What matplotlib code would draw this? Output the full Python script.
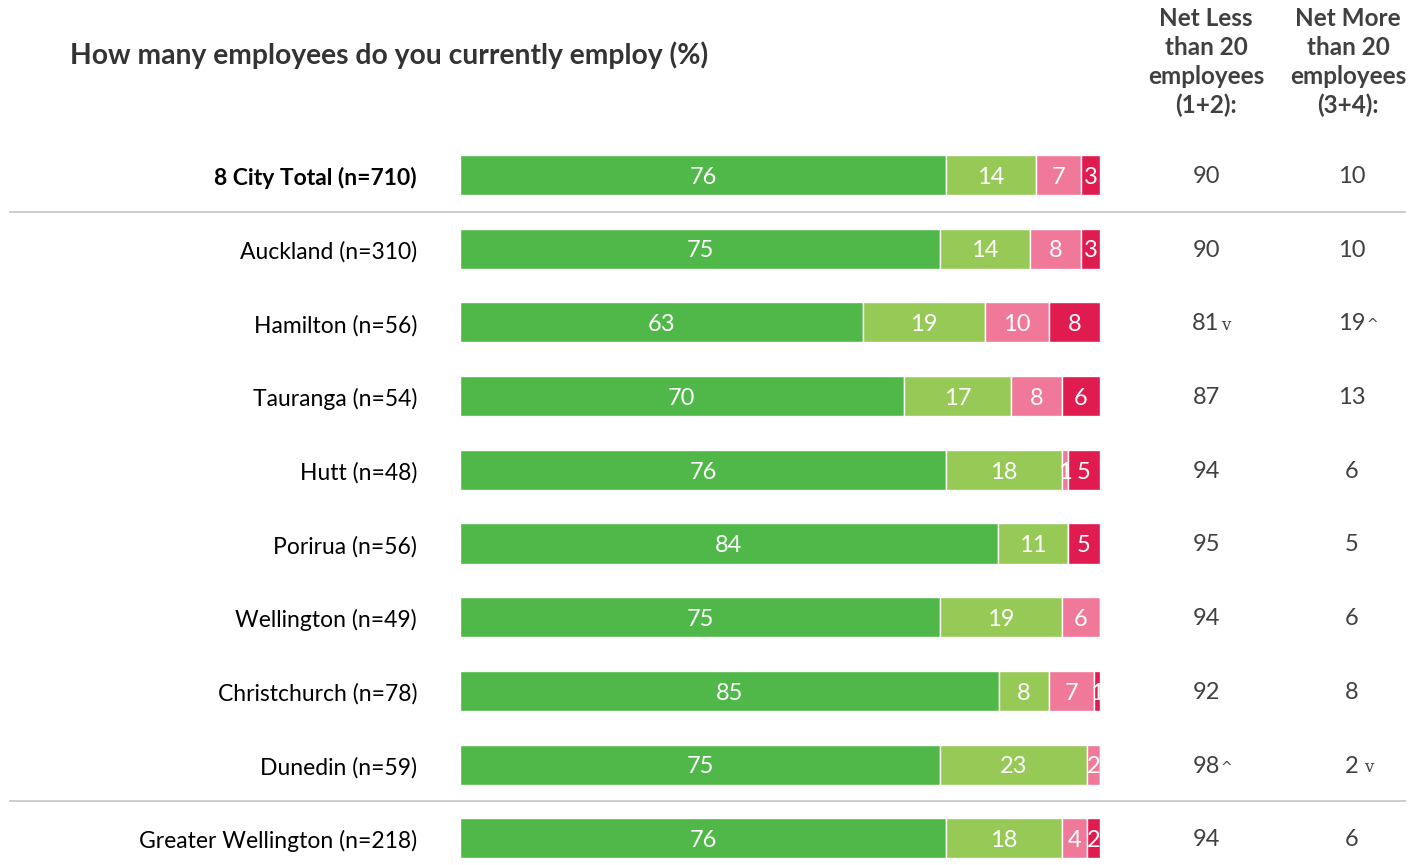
import matplotlib.pyplot as plt
import numpy as np
from matplotlib.transforms import blended_transform_factory

plt.rcParams['font.family'] = ['Lato', 'DejaVu Sans']

labels = ["8 City Total (n=710)", "Auckland (n=310)", "Hamilton (n=56)", "Tauranga (n=54)",
          "Hutt (n=48)", "Porirua (n=56)", "Wellington (n=49)", "Christchurch (n=78)",
          "Dunedin (n=59)", "Greater Wellington (n=218)"]
seg1 = [76, 75, 63, 70, 76, 84, 75, 85, 75, 76]
seg2 = [14, 14, 19, 17, 18, 11, 19, 8, 23, 18]
seg3 = [7, 8, 10, 8, 1, 0, 6, 7, 2, 4]
seg4 = [3, 3, 8, 6, 5, 5, 0, 1, 0, 2]
net_less = [90, 90, 81, 87, 94, 95, 94, 92, 98, 94]
net_more = [10, 10, 19, 13, 6, 5, 6, 8, 2, 6]
mark_less = ["", "", "v", "", "", "", "", "", "^", ""]
mark_more = ["", "", "^", "", "", "", "", "", "v", ""]

colors = ["#4fb848", "#97c957", "#f07898", "#e01b4f"]
text_col = "#404040"

W, H = 1421, 865
fig = plt.figure(figsize=(W / 100, H / 100), dpi=100)
row0, step = 175, 73.7
ax = fig.add_axes([460 / W, 0, 640 / W, 1])
ax.set_xlim(0, 100)
ax.set_ylim((H - row0) / step, -row0 / step)
ax.axis('off')

data = np.array([seg1, seg2, seg3, seg4], dtype=float)
totals = data.sum(axis=0)
norm = data / totals * 100
y = np.arange(len(labels))
left = np.zeros(len(labels))
for k in range(4):
    ax.barh(y, norm[k], left=left, height=0.545, color=colors[k],
            edgecolor='white', linewidth=1)
    for i in range(len(labels)):
        if data[k, i] > 0:
            ax.text(left[i] + norm[k, i] / 2, y[i] + 0.03, f"{int(data[k, i])}",
                    ha='center', va='center', color='white', fontsize=17)
    left += norm[k]

tr = blended_transform_factory(fig.transFigure, ax.transData)
for i, lab in enumerate(labels):
    ax.text(417 / W, i + 0.04, lab, transform=tr, ha='right', va='center', fontsize=16.5,
            color='black', fontweight='bold' if i == 0 else 'normal')
    ax.text(1206 / W, i + 0.02, f"{net_less[i]}", transform=tr, ha='center', va='center',
            fontsize=17, color=text_col)
    ax.text(1352 / W, i + 0.02, f"{net_more[i]}", transform=tr, ha='center', va='center',
            fontsize=17, color=text_col)
    for xc, val, m in [(1206, net_less[i], mark_less[i]), (1352, net_more[i], mark_more[i])]:
        if m:
            off = 3 * len(str(val)) + 9
            ax.text((xc + off) / W, i + 0.04, m, transform=tr, ha='left', va='center',
                    fontsize=12 if m == "v" else 10, color=text_col,
                    family='DejaVu Serif' if m == "v" else 'DejaVu Sans')

for yy in [0.5, 8.5]:
    ax.plot([10 / W, 1405 / W], [yy, yy], transform=tr, color='#c8c8c8', lw=1.3,
            clip_on=False)

fig.text(70 / W, 1 - 55 / H, "How many employees do you currently employ (%)",
         ha='left', va='center', fontsize=20.3, fontweight='bold', color='#333333')
fig.text(1206 / W, 1 - 62 / H, "Net Less\nthan 20\nemployees\n(1+2):", ha='center',
         va='center', fontsize=17.5, fontweight='bold', color=text_col, linespacing=1.3)
fig.text(1348 / W, 1 - 62 / H, "Net More\nthan 20\nemployees\n(3+4):", ha='center',
         va='center', fontsize=17.5, fontweight='bold', color=text_col, linespacing=1.3)

fig.savefig("out.png", dpi=100)
